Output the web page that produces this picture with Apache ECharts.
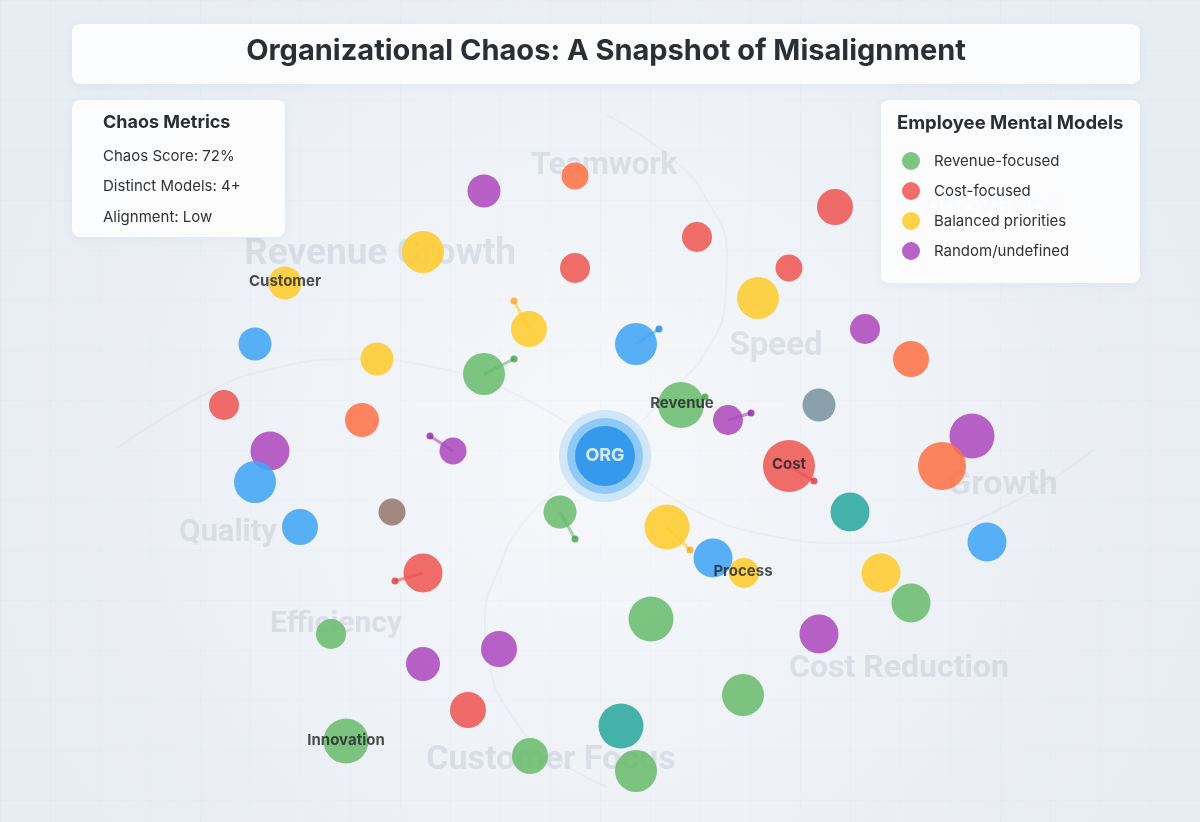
<!DOCTYPE html>
<html>
<head>
<meta charset="utf-8">
<title>Organizational Chaos</title>
<style>
  html, body { margin: 0; padding: 0; background: #eef1f6; }
  #main { width: 1200px; height: 822px; }
</style>
</head>
<body>
<div id="main"></div>
<script src="https://cdn.jsdelivr.net/npm/echarts@6/dist/echarts.min.js"></script>
<script>
// ---- data (x, y in page units, r = bubble radius) ----
var chartTitle = 'Organizational Chaos: A Snapshot of Misalignment';

var metricNames  = ['Chaos Score', 'Distinct Models', 'Alignment'];
var metricValues = ['72%', '4+', 'Low'];

var legendNames = ['Revenue-focused', 'Cost-focused', 'Balanced priorities', 'Random/undefined'];

var revenueFocused = [[484,374,21],[681,405,23],[560,512,16.5],[651,619,22.5],[911,603,19.5],
                      [331,634,15],[743,695,21],[346,741,22.5],[530,756,18],[636,771,21]];
var costFocused    = [[575,268,15],[697,237,15],[835,207,18],[789,268,13.5],[224,405,15],
                      [789,466,26],[423,573,19.5],[468,710,18]];
var balanced       = [[423,252,21],[285,283,16.5],[529,329,18],[377,359,16.5],[758,298,21],
                      [667,527,22.5],[744,573,15],[881,573,19.5]];
var randomModels   = [[484,191,16.5],[865,329,15],[728,420,15],[453,451,13.5],[270,451,19.5],
                      [972,436,22.5],[819,634,19.5],[499,649,18],[423,664,17]];

var blueBubbles   = [[636,344,21],[255,344,16.5],[255,482,21],[300,527,18],[713,558,19.5],[987,542,19.5]];
var orangeBubbles = [[575,176,13.5],[911,359,18],[362,420,17],[942,466,24]];
var grayBubbles   = [[819,405,16.5]];
var brownBubbles  = [[392,512,13.5]];
var tealBubbles   = [[850,512,19.5],[621,726,22.5]];

// tails: from bubble centre to a small dot
var tails = [[529,329,514,301,'yellow'],[484,374,514,359,'green'],[636,344,659,329,'blue'],
             [728,420,751,413,'purple'],[453,451,430,436,'purple'],[789,466,814,481,'red'],
             [560,512,575,539,'green'],[667,527,690,550,'yellow'],[423,573,395,581,'red'],
             [681,405,705,397,'green']];

var orgCenter = [605, 456];
var orgRings  = [46, 38, 30];

var nodeLabels = [['Customer',285,281],['Revenue',682,403],['Cost',789,464],
                  ['Process',743,571],['Innovation',346,740]];

var watermarks = [['Revenue Growth',380,255],['Teamwork',604,166],['Speed',776,347],
                  ['Growth',1003,485],['Quality',228,533],['Efficiency',336,624],
                  ['Cost Reduction',899,669],['Customer Focus',551,760],['Innovation',990,207]];

// faint swirl arcs around ORG
var arcTop    = [[643,420],[680,383],[707,350],[725,303],[727,257],[707,200],[670,157],[607,115]];
var arcLeft   = [[567,423],[500,387],[433,367],[360,359],[267,370],[200,397],[117,448]];
var arcRight  = [[643,478],[700,513],[767,535],[850,543],[933,533],[1017,500],[1093,450]];
var arcBottom = [[567,483],[523,523],[497,573],[485,617],[490,667],[510,713],[547,753],[607,787]];

// ---- styles ----
var palette = {
  green: '#66bb6a', red: '#ef5350', yellow: '#ffca28', purple: '#ab47bc',
  blue: '#42a5f5', orange: '#ff7043', gray: '#78909c', brown: '#8d6e63', teal: '#26a69a'
};
var dotColor = { green: '#43a047', red: '#e53935', yellow: '#f9a825', purple: '#8e24aa', blue: '#1e88e5' };
var watermarkSize = { 'Revenue Growth': 37, 'Teamwork': 31, 'Speed': 33, 'Growth': 34, 'Quality': 31,
                      'Efficiency': 30, 'Cost Reduction': 32, 'Customer Focus': 34, 'Innovation': 32 };
var orgColors = ['rgba(144,202,249,0.45)', 'rgba(100,181,246,0.75)', '#1e8fe8'];

var chart = echarts.init(document.getElementById('main'));

function bubbleSeries(name, data, color, opacity) {
  return {
    name: name, type: 'scatter', data: data, z: 3, silent: true,
    symbolSize: function (d) { return d[2] * 2; },
    itemStyle: { color: color, opacity: opacity || 0.85 }
  };
}

function arcSeries(points) {
  return {
    type: 'line', data: points, smooth: true, symbol: 'none', silent: true, z: 2,
    lineStyle: { color: 'rgba(90,100,120,0.045)', width: 2 }
  };
}

function boxRect(x, y, w, h) {
  return {
    type: 'rect', z: 5, silent: true,
    shape: { x: x, y: y, width: w, height: h, r: 8 },
    style: { fill: 'rgba(255,255,255,0.88)', shadowBlur: 12, shadowColor: 'rgba(40,60,90,0.06)', shadowOffsetY: 2 }
  };
}

var option = {
  backgroundColor: new echarts.graphic.RadialGradient(0.5, 0.55, 0.75, [
    { offset: 0, color: '#f6f8fb' },
    { offset: 1, color: '#e8ecf3' }
  ]),
  animation: false,
  textStyle: { fontFamily: 'Inter, sans-serif' },
  grid: { left: 0, right: 0, top: 0, bottom: 0 },
  xAxis: {
    type: 'value', min: 0, max: 1200, interval: 50,
    axisLine: { show: false }, axisTick: { show: false }, axisLabel: { show: false },
    splitLine: { show: true, lineStyle: { color: 'rgba(120,130,150,0.025)', width: 1 } }
  },
  yAxis: {
    type: 'value', min: 0, max: 822, interval: 50, inverse: true,
    axisLine: { show: false }, axisTick: { show: false }, axisLabel: { show: false },
    splitLine: { show: true, lineStyle: { color: 'rgba(120,130,150,0.025)', width: 1 } }
  },
  title: [
    {
      text: chartTitle, left: 606, top: 36, textAlign: 'center', padding: 0, z: 10,
      textStyle: { fontSize: 29, fontWeight: 'bold', color: '#2b2e33', lineHeight: 30, fontFamily: 'Inter' }
    },
    {
      text: 'Chaos Metrics',
      subtext: metricNames.map(function (n, i) { return n + ': ' + metricValues[i]; }).join('\n'),
      left: 103, top: 112, padding: 0, itemGap: 7, z: 10,
      textStyle: { fontSize: 18, fontWeight: 'bold', color: '#2b2e33', lineHeight: 22, fontFamily: 'Inter' },
      subtextStyle: { fontSize: 15, color: '#333', lineHeight: 30.5, fontFamily: 'Inter' }
    },
    {
      text: 'Employee Mental Models', left: 897, top: 112, padding: 0, z: 10,
      textStyle: { fontSize: 18.5, fontWeight: 'bold', color: '#2b2e33', lineHeight: 22, fontFamily: 'Inter' }
    }
  ],
  legend: {
    data: legendNames, orient: 'vertical', left: 902, top: 152, padding: 0,
    itemWidth: 18, itemHeight: 18, itemGap: 12, icon: 'circle', selectedMode: false, z: 10,
    textStyle: { fontSize: 15, color: '#333', fontFamily: 'Inter', padding: [0, 0, 0, 9] }
  },
  graphic: [
    boxRect(72, 24, 1068, 60),
    boxRect(72, 100, 213, 137),
    boxRect(881, 100, 259, 183)
  ],
  series: [
    {
      type: 'scatter', silent: true, z: 1, symbolSize: 1,
      itemStyle: { color: 'transparent' },
      data: watermarks.map(function (w) {
        return { value: [w[1], w[2]], name: w[0], label: { fontSize: watermarkSize[w[0]] } };
      }),
      label: {
        show: true, position: 'inside', formatter: '{b}',
        color: 'rgba(140,150,168,0.26)', fontWeight: 'bold', fontFamily: 'Roboto'
      }
    },
    arcSeries(arcTop), arcSeries(arcLeft), arcSeries(arcRight), arcSeries(arcBottom),
    bubbleSeries('Revenue-focused', revenueFocused, palette.green),
    bubbleSeries('Cost-focused', costFocused, palette.red),
    bubbleSeries('Balanced priorities', balanced, palette.yellow),
    bubbleSeries('Random/undefined', randomModels, palette.purple),
    bubbleSeries('blue', blueBubbles, palette.blue, 0.88),
    bubbleSeries('orange', orangeBubbles, palette.orange),
    bubbleSeries('gray', grayBubbles, palette.gray),
    bubbleSeries('brown', brownBubbles, palette.brown, 0.8),
    bubbleSeries('teal', tealBubbles, palette.teal),
    {
      type: 'lines', coordinateSystem: 'cartesian2d', silent: true, z: 4,
      data: tails.map(function (t) {
        return { coords: [[t[0], t[1]], [t[2], t[3]]], lineStyle: { color: palette[t[4]] } };
      }),
      lineStyle: { width: 3, opacity: 0.6 }
    },
    {
      type: 'scatter', silent: true, z: 4, symbolSize: 7,
      data: tails.map(function (t) {
        return { value: [t[2], t[3]], itemStyle: { color: dotColor[t[4]] } };
      })
    },
    {
      type: 'scatter', silent: true, z: 4,
      symbolSize: function (d) { return d[2] * 2; },
      data: orgRings.map(function (r, i) {
        return {
          value: [orgCenter[0], orgCenter[1], r],
          itemStyle: { color: orgColors[i] },
          label: { show: i === orgRings.length - 1 }
        };
      }),
      label: {
        position: 'inside', formatter: 'ORG', color: '#fff',
        fontSize: 18, fontWeight: 'bold', fontFamily: 'Inter'
      }
    },
    {
      type: 'scatter', silent: true, z: 4, symbolSize: 1,
      itemStyle: { color: 'transparent' },
      data: nodeLabels.map(function (n) { return { value: [n[1], n[2]], name: n[0] }; }),
      label: {
        show: true, position: 'inside', formatter: '{b}',
        color: '#1f2124', fontSize: 15, fontWeight: 'bold', fontFamily: 'Inter'
      }
    }
  ]
};

chart.setOption(option);
</script>
</body>
</html>
